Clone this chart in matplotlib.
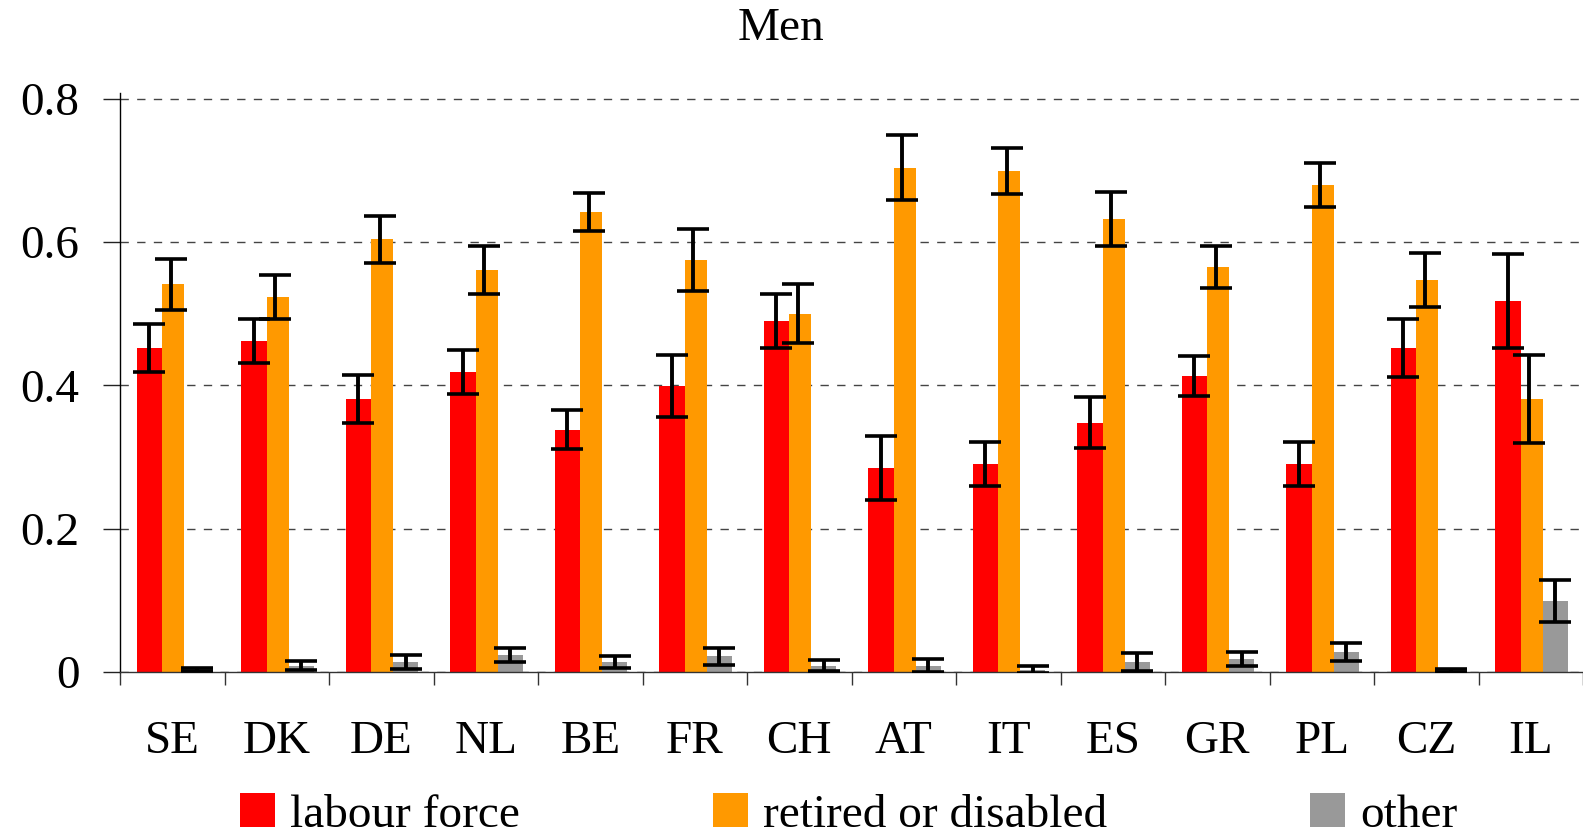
import numpy as np
import matplotlib
matplotlib.use("Agg")
import matplotlib.pyplot as plt
from matplotlib.patches import Patch
from matplotlib.ticker import FixedLocator, NullFormatter

# Country codes along the x axis
countries = ["SE", "DK", "DE", "NL", "BE", "FR", "CH", "AT", "IT", "ES", "GR", "PL", "CZ", "IL"]

# Shares of men by status, with error margins
labour_force = [0.452, 0.462, 0.381, 0.419, 0.338, 0.399, 0.490, 0.285, 0.290, 0.348, 0.413, 0.290, 0.452, 0.518]
labour_err = [0.033, 0.031, 0.033, 0.031, 0.027, 0.043, 0.038, 0.045, 0.031, 0.036, 0.028, 0.031, 0.040, 0.066]

retired = [0.541, 0.523, 0.604, 0.561, 0.642, 0.575, 0.500, 0.704, 0.699, 0.632, 0.565, 0.680, 0.547, 0.381]
retired_err = [0.036, 0.031, 0.033, 0.034, 0.026, 0.043, 0.041, 0.046, 0.032, 0.038, 0.029, 0.031, 0.038, 0.062]

other = [0.003, 0.009, 0.014, 0.024, 0.014, 0.022, 0.009, 0.009, 0.003, 0.014, 0.018, 0.028, 0.002, 0.099]
other_err = [0.002, 0.006, 0.010, 0.0095, 0.008, 0.012, 0.0075, 0.009, 0.005, 0.012, 0.010, 0.012, 0.002, 0.029]

series_names = ["labour force", "retired or disabled", "other"]
yticks = [0, 0.2, 0.4, 0.6, 0.8]
ytick_labels = ["0", "0.2", "0.4", "0.6", "0.8"]

plt.rcParams["font.family"] = ["Liberation Serif", "DejaVu Serif"]
FS = 34

colors = ["#FF0000", "#FF9900", "#999999"]

W, H = 1583, 839
fig = plt.figure(figsize=(W / 100, H / 100), dpi=100)
ax = fig.add_axes([120 / W, 167 / H, 1 - 120 / W, (672 - 93) / H])

x = np.arange(len(countries))

# bar geometry inside each category slot [i, i+1]
bar_left = [0.160, 0.405, 0.613]
bar_width = [0.245, 0.208, 0.242]
err_pos = [0.280, 0.485, 0.735]

values = [labour_force, retired, other]
errors = [labour_err, retired_err, other_err]

for k in range(3):
    ax.bar(x + bar_left[k], values[k], width=bar_width[k], align="edge",
           color=colors[k], linewidth=0, zorder=2)
for k in range(3):
    ax.errorbar(x + err_pos[k], values[k], yerr=errors[k], fmt="none",
                ecolor="black", elinewidth=2.8, capsize=11.5, capthick=2.6, zorder=3)

ax.set_xlim(0, len(countries))
ax.set_ylim(0, 0.808)

# category labels on the slot centers, tick marks on slot boundaries
ax.xaxis.set_major_locator(FixedLocator(x + 0.5))
ax.set_xticklabels(countries, fontsize=FS)
ax.xaxis.set_minor_locator(FixedLocator(np.arange(len(countries) + 1)))
ax.xaxis.set_minor_formatter(NullFormatter())
ax.tick_params(axis="x", which="major", length=0, pad=35)
ax.tick_params(axis="x", which="minor", length=9.4, width=1.0, color="#333333", direction="out")

ax.set_yticks(yticks)
ax.set_yticklabels(ytick_labels, fontsize=FS)
ax.tick_params(axis="y", length=12.2, width=1.0, color="#222222", pad=17, direction="out")

ax.yaxis.grid(True, linestyle=(0, (6, 6)), color="#444444", linewidth=1.0, zorder=0)
ax.set_axisbelow(True)

for side in ["top", "right"]:
    ax.spines[side].set_visible(False)
ax.spines["left"].set_linewidth(1.0)
ax.spines["bottom"].set_linewidth(1.0)
ax.spines["bottom"].set_color("#333333")

fig.text(781 / W, 1 - 40 / H, "Men", ha="center", va="baseline", fontsize=FS)

# legend entries laid out along the bottom edge
legend_x = [240, 713, 1310]
for name, col, lx in zip(series_names, colors, legend_x):
    fig.legend([Patch(facecolor=col, edgecolor="none")], [name], loc="center left",
               bbox_to_anchor=(lx / W, 1 - 815 / H), frameon=False, fontsize=FS,
               handlelength=0.74, handleheight=0.70, handletextpad=0.32,
               borderpad=0, borderaxespad=0)

fig.savefig("out.png", dpi=100, facecolor="white")
